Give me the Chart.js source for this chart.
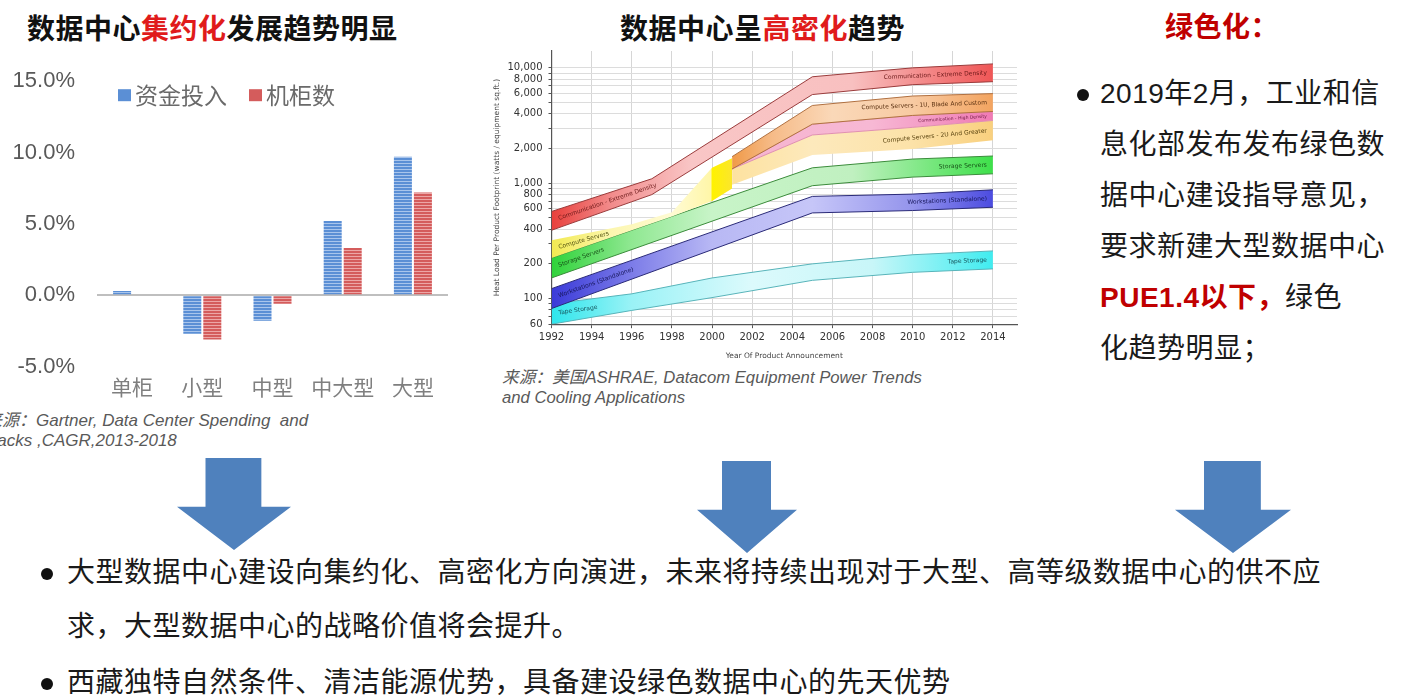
<!DOCTYPE html>
<html lang="zh">
<head>
<meta charset="utf-8">
<title>数据中心发展趋势</title>
<script src="https://cdn.jsdelivr.net/npm/chart.js@4.4.1/dist/chart.umd.min.js"></script>
<style>
  html, body { margin: 0; padding: 0; background: #fff; }
  body {
    width: 1403px; height: 700px; position: relative; overflow: hidden;
    font-family: "Liberation Sans", "Noto Sans CJK SC", sans-serif; color: #1a1a1a;
  }
  .abs { position: absolute; white-space: nowrap; }
  .title { font-size: 28px; font-weight: bold; line-height: 28px; color: #111; letter-spacing: 0.5px; }
  .red { color: #e01b1b; }
  .dred { color: #c00000; font-weight: bold; }
  .src { font-size: 17px; font-style: italic; color: #595959; line-height: 20px; }
  .txt { font-size: 28px; line-height: 28px; letter-spacing: 0.5px; }
  .dot { position: absolute; width: 12px; height: 12px; border-radius: 50%; background: #111; }
  .arrow {
    position: absolute; width: 114px; height: 92px; background: #4f81bd;
    clip-path: polygon(25% 0, 74% 0, 74% 53%, 100% 53%, 50% 100%, 0 53%, 25% 53%);
  }
  canvas { position: absolute; }
</style>
</head>
<body>

<!-- titles -->
<div class="abs title" style="left:27px; top:16px;">数据中心<span class="red">集约化</span>发展趋势明显</div>
<div class="abs title" style="left:620px; top:16px;">数据中心呈<span class="red">高密化</span>趋势</div>
<div class="abs title" style="left:1165px; top:14px; color:#c00000;">绿色化：</div>

<!-- charts -->
<canvas id="barChart" width="460" height="364" style="left:0; top:46px;"></canvas>
<canvas id="bandChart" width="530" height="325" style="left:493px; top:39px;"></canvas>

<!-- sources -->
<div class="abs src" style="left:-15px; top:411px;">来源：Gartner, Data Center Spending&nbsp; and<br>Racks ,CAGR,2013-2018</div>
<div class="abs src" style="left:502px; top:368px; font-size:16.7px;">来源：美国ASHRAE, Datacom Equipment Power Trends<br>and Cooling Applications</div>

<!-- right text -->
<div class="dot" style="left:1077px; top:89px;"></div>
<div class="abs txt" style="left:1100px; top:68px; line-height:51px;">2019年2月，工业和信<br>息化部发布发布绿色数<br>据中心建设指导意见，<br>要求新建大型数据中心<br><span class="dred">PUE1.4以下，</span>绿色<br>化趋势明显；</div>

<!-- arrows -->
<div class="arrow" style="left:177px; top:458px;"></div>
<div class="arrow" style="left:697px; top:461px; width:100px;"></div>
<div class="arrow" style="left:1175px; top:461px; width:116px;"></div>

<!-- bottom text -->
<div class="dot" style="left:41px; top:568px;"></div>
<div class="abs txt" style="left:67px; top:559px;">大型数据中心建设向集约化、高密化方向演进，未来将持续出现对于大型、高等级数据中心的供不应</div>
<div class="abs txt" style="left:67px; top:613px;">求，大型数据中心的战略价值将会提升。</div>
<div class="dot" style="left:41px; top:678px;"></div>
<div class="abs txt" style="left:67px; top:669px;">西藏独特自然条件、清洁能源优势，具备建设绿色数据中心的先天优势</div>

<script>
// ---------- left chart: CAGR by data center size (Gartner 2013-2018) ----------
const sizeCats = ['单柜', '小型', '中型', '中大型', '大型'];
const spendGrowth = [0.3, -2.7, -1.8, 5.2, 9.7];   // 资金投入, %
const rackGrowth = [0, -3.1, -0.6, 3.3, 7.2];      // 机柜数, %

// ---------- middle chart: ASHRAE heat load per product footprint ----------
const yearTicks = [1992, 1994, 1996, 1998, 2000, 2002, 2004, 2006, 2008, 2010, 2012, 2014];
const loadLabels = [60, 100, 200, 400, 600, 800, 1000, 2000, 4000, 6000, 8000, 10000];
const loadGrid = [60, 70, 80, 90, 100, 200, 300, 400, 500, 600, 700, 800, 900,
                  1000, 2000, 3000, 4000, 5000, 6000, 7000, 8000, 9000, 10000];

const extremeYears = [1992, 1997, 2005, 2010, 2014];
const extremeLow = [391, 797, 5870, 7150, 7590];
const extremeHigh = [569, 1093, 8370, 10000, 10820];

const blade1uYears = [2001, 2005, 2010, 2014];
const blade1uLow = [1330, 3250, 3870, 4190];
const blade1uHigh = [1700, 4720, 5700, 5980];

const highDensYears = [2001, 2005, 2010, 2014];
const highDensLow = [1330, 2620, 3050, 3500];
const highDensHigh = [1330, 3250, 3870, 4190];

const server2uYears = [2001, 2005, 2010, 2014];
const server2uLow = [970, 1760, 1980, 2360];
const server2uHigh = [1330, 2620, 3050, 3500];

const computeYears = [1992, 1996, 1998, 2000, 2001];
const computeLow = [225, 392, 516, 700, 900];
const computeHigh = [320, 440, 560, 1360, 1650];

const storageYears = [1992, 2005, 2010, 2014];
const storageLow = [151, 952, 1130, 1207];
const storageHigh = [225, 1360, 1620, 1722];

const workstationYears = [1992, 2005, 2010, 2014];
const workstationLow = [82, 553, 580, 619];
const workstationHigh = [122, 769, 805, 877];

const tapeYears = [1992, 1996, 2000, 2005, 2010, 2014];
const tapeLow = [60, 79, 102, 144, 169, 181];
const tapeHigh = [90, 110, 151, 200, 240, 259];

// striped fill like the original bars
function stripes(base, line) {
    const c = document.createElement('canvas');
    c.width = 4; c.height = 3;
    const g = c.getContext('2d');
    g.fillStyle = base; g.fillRect(0, 0, 4, 3);
    g.fillStyle = line; g.fillRect(0, 0, 4, 1);
    return g.createPattern(c, 'repeat');
}

// small legend drawn inside the plot area
const inlineLegend = {
    id: 'inlineLegend',
    afterDraw(chart, args, opts) {
        const {ctx, chartArea} = chart;
        let x = chartArea.left + opts.offsetX;
        const y = chartArea.top + opts.offsetY;
        ctx.save();
        ctx.font = '23px "Noto Sans CJK SC"';
        ctx.textBaseline = 'middle';
        chart.data.datasets.forEach(ds => {
            ctx.fillStyle = ds.swatch;
            ctx.fillRect(x, y - 6, 13, 12);
            x += 17;
            ctx.fillStyle = '#6a6a6a';
            ctx.fillText(ds.label, x, y);
            x += ctx.measureText(ds.label).width + 22;
        });
        ctx.restore();
    }
};

new Chart(document.getElementById('barChart'), {
    type: 'bar',
    data: {
        labels: sizeCats,
        datasets: [
            { label: '资金投入', data: spendGrowth, swatch: '#5b8fd5',
              backgroundColor: stripes('#5b8fd5', '#a9c5ec') },
            { label: '机柜数', data: rackGrowth, swatch: '#d45c5c',
              backgroundColor: stripes('#d45c5c', '#eca6a6') }
        ]
    },
    options: {
        responsive: false,
        animation: false,
        categoryPercentage: 0.57,
        barPercentage: 0.9,
        layout: { padding: { top: 25, right: 12, left: 0, bottom: 0 } },
        plugins: {
            legend: { display: false },
            tooltip: { enabled: false },
            inlineLegend: { offsetX: 21, offsetY: 14 }
        },
        scales: {
            x: {
                grid: { display: false },
                border: { display: false },
                ticks: { color: '#7f7f7f', padding: 0, font: { family: 'Noto Sans CJK SC', size: 21 } },
                afterFit: s => { s.height = 43.5; }
            },
            y: {
                min: -5, max: 15,
                ticks: {
                    stepSize: 5, padding: 22, color: '#595959',
                    font: { family: 'Liberation Sans', size: 22 },
                    callback: v => v.toFixed(1) + '%'
                },
                grid: {
                    drawTicks: false, lineWidth: 2,
                    color: c => (c.tick && c.tick.value === 0) ? '#bfbfbf' : 'rgba(0,0,0,0)'
                },
                border: { display: false },
                afterFit: s => { s.width = 97; }
            }
        }
    },
    plugins: [inlineLegend]
});

// ---------- band chart ----------
function points(years, vals) {
    return years.map((yr, i) => ({ x: yr, y: vals[i] }));
}

function bandGradient(chart, stops, fallback) {
    const xs = chart.scales.x;
    if (!chart.chartArea || !xs) return fallback;
    const x0 = xs.getPixelForValue(1992), x1 = xs.getPixelForValue(2014);
    const g = chart.ctx.createLinearGradient(x0, 0, x1, 0);
    stops.forEach(([yr, c]) => g.addColorStop((yr - 1992) / 22, c));
    return g;
}

const bands = [
    { years: extremeYears, low: extremeLow, high: extremeHigh, line: '#9a3c3c', text: '#6a1818',
      left: 'Communication - Extreme Density', right: 'Communication - Extreme Density',
      stops: [[1992, '#e8403c'], [1995, '#f28c8c'], [1999, '#f9c6c6'], [2007, '#f8c0c0'], [2014, '#ef5656']] },
    { years: blade1uYears, low: blade1uLow, high: blade1uHigh, line: '#b07040', text: '#5a3010',
      right: 'Compute Servers - 1U, Blade And Custom',
      stops: [[2001, '#f09a48'], [2003, '#f6bb88'], [2006, '#fad8b8'], [2010, '#f8caa2'], [2014, '#f3a460']] },
    { years: highDensYears, low: highDensLow, high: highDensHigh, line: '#e090b0', text: '#701840', small: true,
      right: 'Communication - High Density',
      stops: [[2001, '#f6b4d0'], [2008, '#f7b8d4'], [2014, '#f07ab4']] },
    { years: server2uYears, low: server2uLow, high: server2uHigh, line: 'rgba(0,0,0,0)', text: '#5a4410',
      right: 'Compute Servers - 2U And Greater',
      stops: [[2001, '#fde2a0'], [2005, '#fde9bc'], [2010, '#fce2a8'], [2014, '#f9d07e']] },
    { years: computeYears, low: computeLow, high: computeHigh, line: 'rgba(0,0,0,0)', text: '#505010',
      left: 'Compute Servers',
      stops: [[1992, '#f2ea50'], [1995, '#fcf6b0'], [1998, '#fffbd4'], [1999.95, '#fff6a8'], [2000, '#fff200'], [2001, '#fbe62c']] },
    { years: storageYears, low: storageLow, high: storageHigh, line: '#3c8c3c', text: '#174f17',
      left: 'Storage Servers', right: 'Storage Servers',
      stops: [[1992, '#2fd23a'], [1996, '#90e892'], [2000, '#c8f4c8'], [2007, '#c0f0c0'], [2014, '#3ee04a']] },
    { years: workstationYears, low: workstationLow, high: workstationHigh, line: '#2a2a78', text: '#16165a',
      left: 'Workstations (Standalone)', right: 'Workstations (Standalone)',
      stops: [[1992, '#3a3ad8'], [1996, '#7c7ce8'], [2000, '#b8b8f4'], [2005, '#c6c6f8'], [2010, '#9494ec'], [2014, '#4c4ce0']] },
    { years: tapeYears, low: tapeLow, high: tapeHigh, line: '#58b4ba', text: '#15525a',
      left: 'Tape Storage', right: 'Tape Storage',
      stops: [[1992, '#2ee6ec'], [1996, '#9af2f6'], [2002, '#dcfafc'], [2008, '#c8f6f8'], [2014, '#40ecf0']] }
];

const bandSets = [];
bands.forEach(b => {
    bandSets.push({ data: points(b.years, b.low), borderColor: b.line, borderWidth: 1,
                    pointRadius: 0, fill: false });
    bandSets.push({ data: points(b.years, b.high), borderColor: b.line, borderWidth: 1,
                    pointRadius: 0, fill: '-1',
                    backgroundColor: c => bandGradient(c.chart, b.stops, b.stops[0][1]) });
});

// band names written along the bands
const bandLabels = {
    id: 'bandLabels',
    afterDatasetsDraw(chart) {
        const {ctx, scales: {x, y}} = chart;
        const mid = (b, i) => ({ px: x.getPixelForValue(b.years[i]),
                                 py: y.getPixelForValue(Math.sqrt(b.low[i] * b.high[i])) });
        ctx.save();
        ctx.textBaseline = 'middle';
        bands.forEach(b => {
            ctx.fillStyle = b.text;
            ctx.font = (b.small ? '4.5px' : '6px') + ' "DejaVu Sans"';
            if (b.left) {
                const p0 = mid(b, 0), p1 = mid(b, 1);
                const ang = Math.atan2(p1.py - p0.py, p1.px - p0.px);
                const sx = x.getPixelForValue(1992.35);
                const sy = p0.py + (sx - p0.px) * Math.tan(ang);
                ctx.save();
                ctx.translate(sx, sy);
                ctx.rotate(ang);
                ctx.textAlign = 'left';
                ctx.fillText(b.left, 0, 0);
                ctx.restore();
            }
            if (b.right) {
                const n = b.years.length;
                const p0 = mid(b, n - 2), p1 = mid(b, n - 1);
                const ang = Math.atan2(p1.py - p0.py, p1.px - p0.px);
                const ex = x.getPixelForValue(2013.7);
                const ey = p1.py + (ex - p1.px) * Math.tan(ang);
                ctx.save();
                ctx.translate(ex, ey);
                ctx.rotate(ang);
                ctx.textAlign = 'right';
                ctx.fillText(b.right, 0, 0);
                ctx.restore();
            }
        });
        ctx.restore();
    }
};

new Chart(document.getElementById('bandChart'), {
    type: 'line',
    data: { datasets: bandSets },
    options: {
        responsive: false,
        animation: false,
        layout: { padding: { top: 4, right: 6, left: 0, bottom: 0 } },
        plugins: { legend: { display: false }, tooltip: { enabled: false } },
        elements: { line: { tension: 0 } },
        scales: {
            x: {
                type: 'linear', min: 1992, max: 2015.2,
                afterBuildTicks: s => { s.ticks = yearTicks.map(v => ({ value: v })); },
                ticks: { autoSkip: false, maxRotation: 0, padding: 3, color: '#333',
                         font: { family: 'DejaVu Sans', size: 10 }, callback: v => String(v) },
                grid: { color: '#d6d6d6', tickColor: '#555', tickLength: 4 },
                border: { color: '#555', width: 1.2 },
                title: { display: true, text: 'Year Of Product Announcement', color: '#444',
                         font: { family: 'DejaVu Sans', size: 7.5 }, padding: { top: 0, bottom: 3 } },
                afterFit: s => { s.height = 39.8; }
            },
            y: {
                type: 'logarithmic', min: 60, max: 14000,
                afterBuildTicks: s => { s.ticks = loadGrid.map(v => ({ value: v })); },
                ticks: { autoSkip: false, padding: 6, color: '#333',
                         font: { family: 'DejaVu Sans', size: 10 },
                         callback: v => loadLabels.includes(v) ? v.toLocaleString('en-US') : '' },
                grid: { color: '#dcdcdc', tickColor: '#555', tickLength: 3 },
                border: { color: '#555', width: 1.2 },
                title: { display: true, text: 'Heat Load Per Product Footprint (watts / equipment sq.ft.)',
                         color: '#444', font: { family: 'DejaVu Sans', size: 7.5 }, padding: { top: 0, bottom: 2 } },
                afterFit: s => { s.width = 58.5; }
            }
        }
    },
    plugins: [bandLabels]
});
</script>
</body>
</html>
